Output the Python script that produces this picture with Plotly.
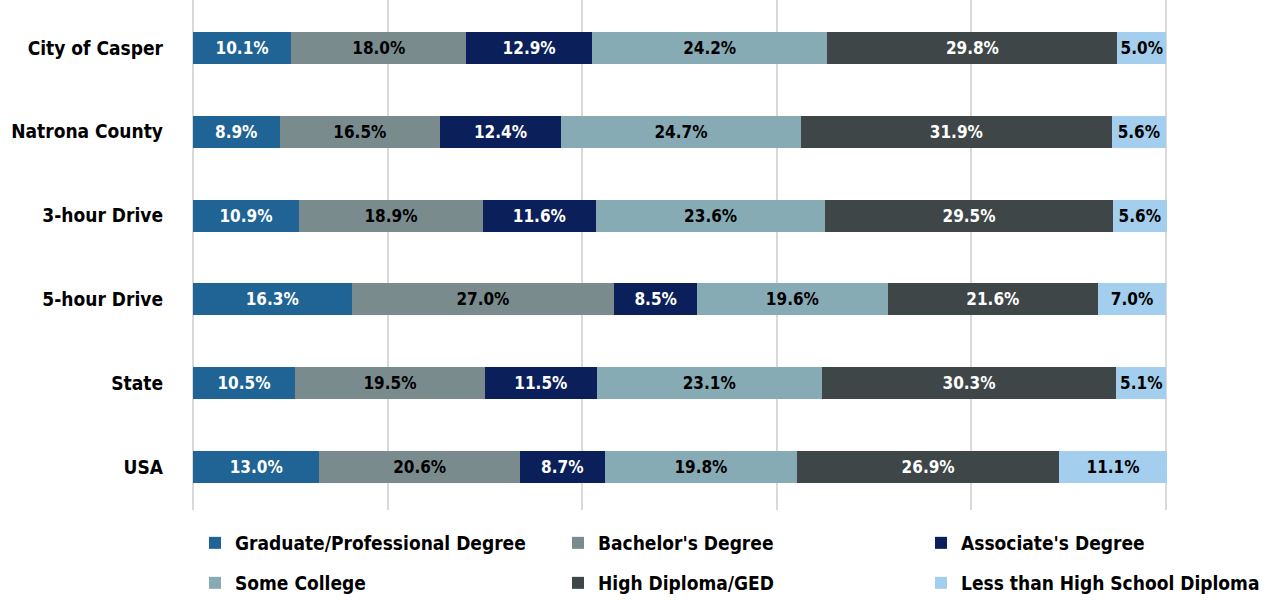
import plotly.graph_objects as go

regions = ["City of Casper", "Natrona County", "3-hour Drive", "5-hour Drive", "State", "USA"]

graduate = [10.1, 8.9, 10.9, 16.3, 10.5, 13.0]
bachelors = [18.0, 16.5, 18.9, 27.0, 19.5, 20.6]
associates = [12.9, 12.4, 11.6, 8.5, 11.5, 8.7]
some_college = [24.2, 24.7, 23.6, 19.6, 23.1, 19.8]
high_school = [29.8, 31.9, 29.5, 21.6, 30.3, 26.9]
less_than_hs = [5.0, 5.6, 5.6, 7.0, 5.1, 11.1]

FONT = "DejaVu Sans Condensed, Liberation Sans Narrow, sans-serif"

# name, values, bar colour, label colour
series = [
    ("Graduate/Professional Degree", graduate, "#1f6495", "white"),
    ("Bachelor's Degree", bachelors, "#7a8b8d", "black"),
    ("Associate's Degree", associates, "#0b1f5b", "white"),
    ("Some College", some_college, "#86abb5", "black"),
    ("High Diploma/GED", high_school, "#3e4648", "white"),
    ("Less than High School Diploma", less_than_hs, "#a4ceed", "black"),
]

# legend slots (symbol centre in px, row centre in px) - one small legend per entry
legend_pos = [(215, 543), (578, 543), (941, 543), (215, 583), (578, 583), (941, 583)]

fig = go.Figure()
for i, (name, vals, color, tcolor) in enumerate(series):
    leg = "legend" if i == 0 else f"legend{i + 1}"
    fig.add_trace(go.Bar(
        y=regions, x=vals, name=name, orientation="h",
        marker=dict(color=color, line=dict(width=0)),
        text=[f"{v:.1f}%" for v in vals],
        textposition="inside", insidetextanchor="middle",
        textangle=0, constraintext="none",
        textfont=dict(family=FONT, size=17, color=tcolor, weight="bold"),
        legend=leg,
    ))

legends = {}
for i, (px, py) in enumerate(legend_pos):
    key = "legend" if i == 0 else f"legend{i + 1}"
    legends[key] = dict(
        xref="container", yref="container",
        x=(px - 20) / 1280, y=1 - py / 601,
        xanchor="left", yanchor="middle",
        orientation="h", itemclick=False, bgcolor="rgba(0,0,0,0)",
        font=dict(family=FONT, size=19, color="black", weight="bold"),
    )

n = len(regions)
fig.update_layout(
    barmode="stack",
    bargap=0.618,
    width=1280, height=601,
    margin=dict(l=190, r=111, t=0, b=91),
    paper_bgcolor="white", plot_bgcolor="white",
    font=dict(family=FONT, size=19, color="black"),
    # small padding so the 0 and 100 gridlines are drawn at the edges
    xaxis=dict(range=[-0.3, 100.3], tickvals=[0, 20, 40, 60, 80, 100],
               showticklabels=False,
               showgrid=True, gridcolor="#d9d9d9", gridwidth=2,
               zeroline=False, fixedrange=True, automargin=False),
    yaxis=dict(categoryorder="array", categoryarray=regions[::-1],
               range=[-0.513, n - 1 + 0.573], ticks="",
               ticklabelstandoff=26,
               tickfont=dict(family=FONT, size=19, color="black", weight="bold"),
               showgrid=False, fixedrange=True, automargin=False),
    showlegend=True,
    **legends,
)

# page has a default 8px body margin; drop it so the chart sits at the window corner
fig.write_html("out.html", config={"displayModeBar": False},
               post_script="document.body.style.margin='0';")
